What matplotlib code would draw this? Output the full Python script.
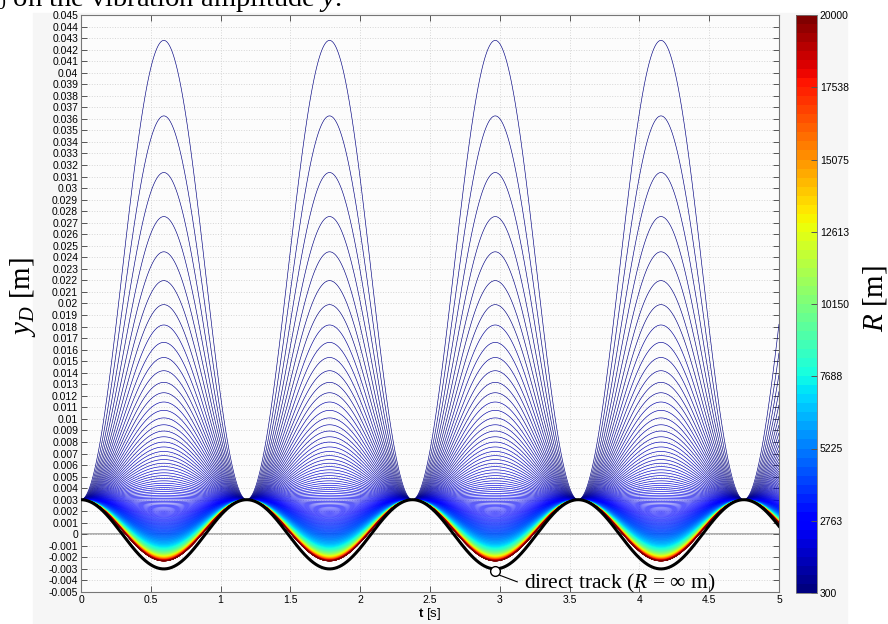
import numpy as np
import matplotlib
matplotlib.use('Agg')
import matplotlib.pyplot as plt
from matplotlib.collections import LineCollection
from matplotlib.colors import Normalize
from matplotlib.patches import Rectangle
from matplotlib.ticker import MultipleLocator, FuncFormatter

plt.rcParams['font.family'] = ['Liberation Sans', 'DejaVu Sans']
plt.rcParams['mathtext.fontset'] = 'custom'
plt.rcParams['mathtext.rm'] = 'Liberation Serif'
plt.rcParams['mathtext.it'] = 'Liberation Serif:italic'
plt.rcParams['mathtext.bf'] = 'Liberation Sans:bold'

# curve radii (one line per radius) and the read-off curve parameters
R_values = np.arange(300, 20001, 50)      # m
period = 1.187                             # s, distance between the cusps
y_direct = 0.003                           # m, amplitude of the direct track
peak_const = 13.74                         # peak of curve R sits at -y_direct + peak_const / R
t_end = 5.0

cbar_ticks = [300, 2763, 5225, 7688, 10150, 12613, 15075, 17538, 20000]
cbar_labels = ['300', '2763', '5225', '7688', '10150', '12613', '15075', '17538', '20000']

t = np.linspace(0, t_end, 1500)
wave = np.cos(2 * np.pi * t / period)

fig = plt.figure(figsize=(8.88, 6.24), dpi=100)
fig.patch.set_facecolor('white')
fig.patches.append(Rectangle((33 / 888, 0), (847 - 33) / 888, 611 / 624,
                             transform=fig.transFigure, color='#f6f6f6', zorder=-5))

ax = fig.add_axes([81 / 888, 32 / 624, 698 / 888, 577 / 624])
ax.set_facecolor('#fcfcfc')
cax = fig.add_axes([796 / 888, 31 / 624, 21 / 888, 578 / 624])

cmap = plt.get_cmap('jet', 64)
norm = Normalize(vmin=R_values.min(), vmax=R_values.max())

segs = []
cols = []
for R in R_values:
    y = y_direct * wave + (peak_const / R) * (1 - wave) / 2
    segs.append(np.column_stack([t, y]))
    cols.append(cmap(norm(R)))
lc = LineCollection(segs, colors=cols, linewidths=0.45, zorder=3)
ax.add_collection(lc)

# direct track
ax.plot(t, y_direct * wave, color='black', lw=2.2, zorder=4)
ax.axhline(0, color='#a8a8a8', lw=1.3, zorder=1)

# annotation
ax.plot([3.0, 3.125], [-0.00355, -0.00412], color='black', lw=0.8, zorder=5)
ax.plot([2.966], [-0.0032], marker='o', ms=7, mfc='white', mec='black', mew=1, zorder=6)
ax.text(3.17, -0.00466, r'direct track ($R$ = $\infty$ m)', family='Liberation Serif',
        fontsize=15.5, va='baseline', ha='left', zorder=6)

ax.set_xlim(0, 5)
ax.set_ylim(-0.005, 0.045)
ax.xaxis.set_major_locator(MultipleLocator(0.5))
ax.yaxis.set_major_locator(MultipleLocator(0.001))
ax.xaxis.set_major_formatter(FuncFormatter(lambda v, p: f'{round(v, 3):g}'))
ax.yaxis.set_major_formatter(FuncFormatter(lambda v, p: f'{round(v, 4):g}' if abs(v) > 1e-9 else '0'))
ax.tick_params(direction='in', length=4.5, width=0.7, color='#555555', labelsize=7.5,
               top=True, right=True, pad=2)
ax.grid(True, color='#d6d6d6', linestyle=':', lw=0.7, zorder=0)
for s in ax.spines.values():
    s.set_color('#777777')
    s.set_linewidth(0.8)

ax.set_xlabel(r'$\mathbf{t}$ [s]', fontsize=9.5, labelpad=1)
fig.text(23 / 888, 1 - 297 / 624, r'$y_D$ [m]', fontsize=21, rotation=90,
         ha='center', va='center', family='Liberation Serif')

sm = plt.cm.ScalarMappable(norm=norm, cmap=cmap)
cb = fig.colorbar(sm, cax=cax)
cb.set_ticks(cbar_ticks)
cb.set_ticklabels(cbar_labels)
cb.ax.tick_params(direction='in', length=4, width=0.7, color='#555555', labelsize=7.5, pad=2)
cb.outline.set_edgecolor('#777777')
cb.outline.set_linewidth(0.6)
fig.text(875 / 888, 1 - 298 / 624, r'$R$ [m]', fontsize=21, rotation=90,
         ha='center', va='center', family='Liberation Serif')

# clipped heading above the figure
fig.text(-0.022, 1 - 6 / 624, r'$y_0$ on the vibration amplitude $y$.', fontsize=20.5,
         family='Liberation Serif', ha='left', va='baseline')

fig.savefig('out.png', dpi=100, facecolor='white')
